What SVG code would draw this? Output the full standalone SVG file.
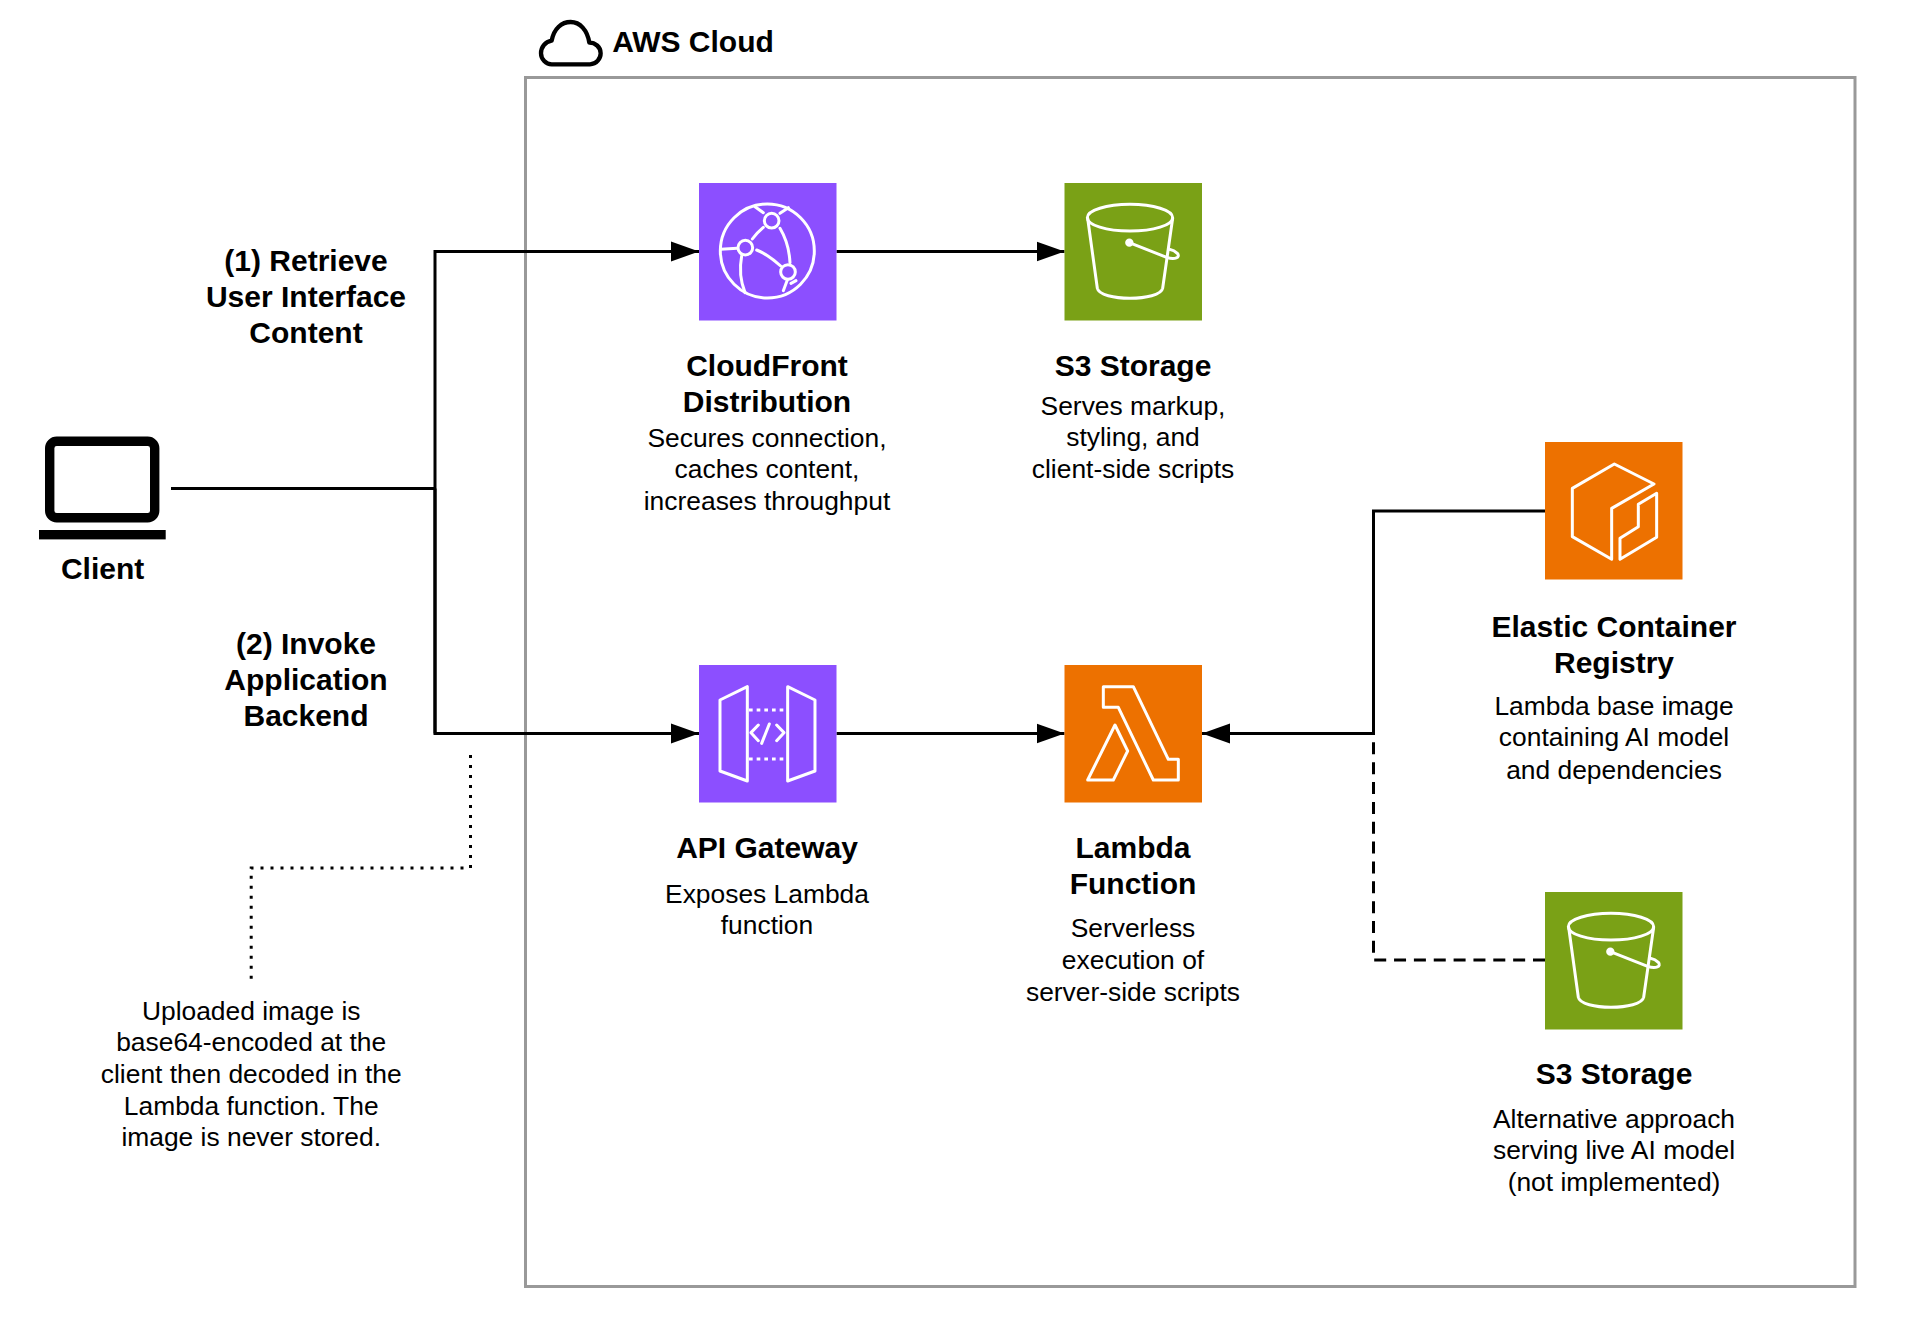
<svg xmlns="http://www.w3.org/2000/svg" width="1912" height="1341" viewBox="0 0 1912 1341">
<style>
text{font-family:"Liberation Sans",Arial,sans-serif;fill:#000;text-anchor:middle}
.t{font-size:30px;font-weight:bold}
.d{font-size:26.4px}
.c{fill:none;stroke:#000;stroke-width:3}
.i{fill:none;stroke:#fff;stroke-width:9;stroke-linejoin:round;stroke-linecap:round}
</style>
<defs>
<marker id="arrow" markerUnits="userSpaceOnUse" markerWidth="28" markerHeight="22" refX="28" refY="11" orient="auto"><path d="M0 1 L28 11 L0 21 Z" fill="#000"/></marker>
</defs>
<rect width="1912" height="1341" fill="#fff"/>
<g id="aws-cloud">
<rect x="525.5" y="77.5" width="1329.5" height="1209" fill="none" stroke="#999" stroke-width="3"/>
<g transform="translate(530 0) scale(.3333)"><path d="M65 193 H180 C200 193 212 175 212 160 C212 140 195 128 178 128 C172 90 150 66 122 66 C95 66 72 85 65 122 C45 125 33 142 33 160 C33 178 48 193 65 193 Z" fill="none" stroke="#000" stroke-width="13" stroke-linejoin="round"/></g>
<text x="693" y="52.4" class="t">AWS Cloud</text>
</g>
<g id="connectors">
<path class="c" d="M171 488.5 H435"/>
<path class="c" d="M435 733.5 V251.5 H699" marker-end="url(#arrow)"/>
<path class="c" d="M435 488.5 V733.5 H699" marker-end="url(#arrow)"/>
<path class="c" d="M836.5 251.5 H1064.5" marker-end="url(#arrow)"/>
<path class="c" d="M836.5 733.5 H1064.5" marker-end="url(#arrow)"/>
<path class="c" d="M1545 511 H1373.5 V733.5 H1202" marker-end="url(#arrow)"/>
<path class="c" d="M1545 960 H1373.5 V736" stroke-dasharray="12 7.85"/>
<path class="c" d="M470.5 755 V868 H251.2 V980" stroke-dasharray="3 7"/>
</g>
<g id="client">
<rect x="49.7" y="441.3" width="105" height="76.4" rx="7" fill="none" stroke="#000" stroke-width="9.4"/>
<rect x="39" y="530" width="126.7" height="9.4" fill="#000"/>
<text x="102.6" y="578.6" class="t">Client</text>
</g>
<g id="label-1">
<text x="306" y="270.6" class="t">(1) Retrieve</text>
<text x="306" y="306.6" class="t">User Interface</text>
<text x="306" y="342.6" class="t">Content</text>
</g>
<g id="label-2">
<text x="306" y="654.2" class="t">(2) Invoke</text>
<text x="306" y="690.2" class="t">Application</text>
<text x="306" y="726.2" class="t">Backend</text>
</g>
<g id="note">
<text x="251.2" y="1019.6" class="d">Uploaded image is</text>
<text x="251.2" y="1051.3" class="d">base64-encoded at the</text>
<text x="251.2" y="1083" class="d">client then decoded in the</text>
<text x="251.2" y="1114.7" class="d">Lambda function. The</text>
<text x="251.2" y="1146.4" class="d">image is never stored.</text>
</g>
<g id="cloudfront">
<rect x="699" y="183" width="137.5" height="137.5" fill="#8C4FFF"/>
<g transform="translate(680 170) scale(.3333)" class="i">
<circle cx="262" cy="243" r="141"/>
<circle cx="275" cy="152" r="22"/><circle cx="196" cy="233" r="22"/><circle cx="324" cy="306" r="22"/>
<path d="M250 172 C238 182 226 194 217 207"/>
<path d="M300 175 C318 205 328 240 330 278"/>
<path d="M230 240 C255 250 280 268 302 288"/>
<path d="M122 238 L172 235"/>
<path d="M185 258 C178 295 182 335 195 368"/>
<path d="M225 110 L250 128 M300 130 L325 113 M322 330 L310 362 M333 340 L348 332"/>
</g>
<text x="767" y="375.8" class="t">CloudFront</text>
<text x="767" y="411.8" class="t">Distribution</text>
<text x="767" y="446.6" class="d">Secures connection,</text>
<text x="767" y="478.3" class="d">caches content,</text>
<text x="767" y="510" class="d">increases throughput</text>
</g>
<g id="s3-storage">
<rect x="1064.5" y="183" width="137.5" height="137.5" fill="#7AA116"/>
<g transform="translate(1050 170) scale(.3333)" class="i">
<ellipse cx="240" cy="143" rx="128" ry="40"/>
<path d="M113 145 L142 355 C150 395 330 395 338 355 L368 145"/>
<path d="M238 218 L350 262 C375 270 392 262 382 250 C375 243 368 240 358 238"/>
<circle cx="238" cy="218" r="8" fill="#fff"/>
</g>
<text x="1133" y="375.8" class="t">S3 Storage</text>
<text x="1133" y="414.8" class="d">Serves markup,</text>
<text x="1133" y="445.8" class="d">styling, and</text>
<text x="1133" y="478.2" class="d">client-side scripts</text>
</g>
<g id="api-gateway">
<rect x="699" y="665" width="137.5" height="137.5" fill="#8C4FFF"/>
<g transform="translate(680 655) scale(.3333)" class="i">
<path d="M120 135 L202 95 V378 L120 348 Z M323 95 L405 135 V348 L323 378 Z"/>
<path d="M235 210 L213 233 L235 257 M268 207 L245 265 M290 210 L312 233 L290 257"/>
<path d="M207 165 H320 M207 312 H320" stroke-dasharray="11 12" stroke-linecap="butt"/>
</g>
<text x="767" y="858" class="t">API Gateway</text>
<text x="767" y="902.6" class="d">Exposes Lambda</text>
<text x="767" y="934.3" class="d">function</text>
</g>
<g id="lambda">
<rect x="1064.5" y="665" width="137.5" height="137.5" fill="#ED7100"/>
<g transform="translate(1050 655) scale(.3333)" class="i">
<path d="M160 95 H250 L355 313 H385 V375 H310 L205 157 H160 Z"/>
<path d="M195 210 L233 288 L190 375 H113 Z"/>
</g>
<text x="1133" y="858" class="t">Lambda</text>
<text x="1133" y="894" class="t">Function</text>
<text x="1133" y="937.3" class="d">Serverless</text>
<text x="1133" y="969" class="d">execution of</text>
<text x="1133" y="1000.7" class="d">server-side scripts</text>
</g>
<g id="ecr">
<rect x="1545" y="442" width="137.5" height="137.5" fill="#ED7100"/>
<g transform="translate(1540 435) scale(.3333)" class="i">
<path d="M215 373 L97 305 V160 L223 87 L342 147 L215 220 Z"/>
<path d="M240 373 V310 L295 275 V208 L350 175 V307 Z"/>
</g>
<text x="1614" y="637.2" class="t">Elastic Container</text>
<text x="1614" y="673.2" class="t">Registry</text>
<text x="1614" y="715.3" class="d">Lambda base image</text>
<text x="1614" y="746" class="d">containing AI model</text>
<text x="1614" y="778.7" class="d">and dependencies</text>
</g>
<g id="s3-storage-alt">
<rect x="1545" y="892" width="137.5" height="137.5" fill="#7AA116"/>
<g transform="translate(1531 879) scale(.3333)" class="i">
<ellipse cx="240" cy="143" rx="128" ry="40"/>
<path d="M113 145 L142 355 C150 395 330 395 338 355 L368 145"/>
<path d="M238 218 L350 262 C375 270 392 262 382 250 C375 243 368 240 358 238"/>
<circle cx="238" cy="218" r="8" fill="#fff"/>
</g>
<text x="1614" y="1084" class="t">S3 Storage</text>
<text x="1614" y="1127.5" class="d">Alternative approach</text>
<text x="1614" y="1159.2" class="d">serving live AI model</text>
<text x="1614" y="1190.9" class="d">(not implemented)</text>
</g>
</svg>
